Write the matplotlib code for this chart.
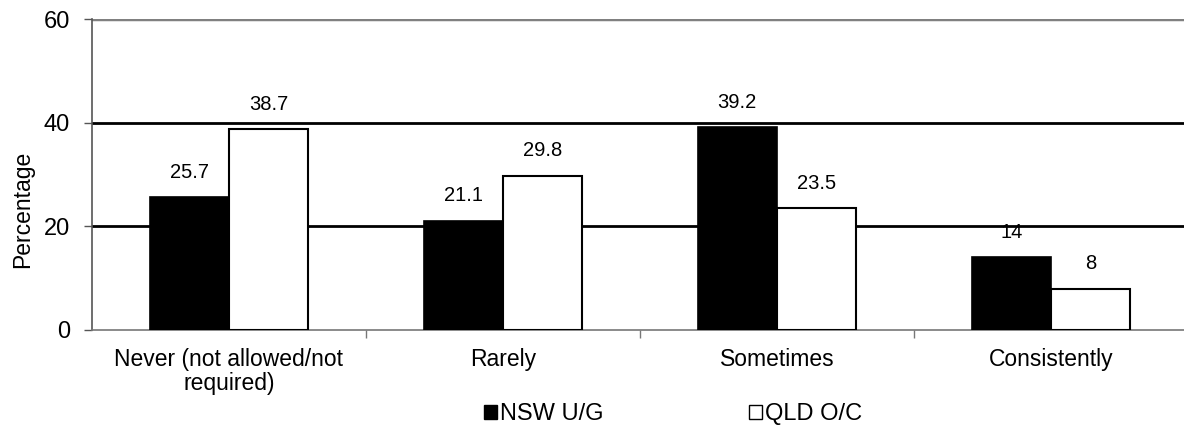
import numpy as np
import matplotlib
matplotlib.use("Agg")
import matplotlib.pyplot as plt
from matplotlib.patches import Patch

plt.rcParams['font.family'] = ['Liberation Sans', 'DejaVu Sans']

categories = ["Never (not allowed/not\nrequired)", "Rarely", "Sometimes", "Consistently"]
nsw = [25.7, 21.1, 39.2, 14]
qld = [38.7, 29.8, 23.5, 8]
nsw_labels = ["25.7", "21.1", "39.2", "14"]
qld_labels = ["38.7", "29.8", "23.5", "8"]

fig = plt.figure(figsize=(11.84, 4.28), dpi=100)
ax = fig.add_axes([92/1184, 1-330/428, 1096/1184, 311/428])

x = np.arange(len(categories))
w = 0.29
b1 = ax.bar(x - w/2, nsw, w, color='black', edgecolor='black', linewidth=1.2, zorder=3)
b2 = ax.bar(x + w/2, qld, w, color='white', edgecolor='black', linewidth=1.5, zorder=3)

for rect, lab in zip(b1, nsw_labels):
    ax.annotate(lab, (rect.get_x() + rect.get_width()/2, rect.get_height()),
                xytext=(0, 11), textcoords='offset points', ha='center', va='bottom', fontsize=14.5)
for rect, lab in zip(b2, qld_labels):
    ax.annotate(lab, (rect.get_x() + rect.get_width()/2, rect.get_height()),
                xytext=(0, 11), textcoords='offset points', ha='center', va='bottom', fontsize=14.5)

ax.set_xlim(-0.5, 3.5)
ax.set_ylim(0, 60)
ax.set_yticks([0, 20, 40, 60])
ax.tick_params(axis='y', labelsize=17, length=6, width=1, color='#555555', pad=10)
ax.set_xticks(x)
ax.set_xticklabels(categories, fontsize=16.5, linespacing=1.05)
ax.tick_params(axis='x', length=0, pad=13)
ax.set_xticks([0.5, 1.5, 2.5], minor=True)
ax.tick_params(axis='x', which='minor', length=6, width=1, color='#777777')

ax.axhline(20, color='black', linewidth=2, zorder=2)
ax.axhline(40, color='black', linewidth=2, zorder=2)
ax.axhline(60, color='#808080', linewidth=2.5, zorder=2)

for s in ['top', 'right']:
    ax.spines[s].set_visible(False)
ax.spines['left'].set_color('#555555')
ax.spines['bottom'].set_color('#777777')
ax.spines['left'].set_linewidth(1.2)
ax.spines['bottom'].set_linewidth(1.2)

ax.set_ylabel("Percentage", fontsize=16.5)
ax.yaxis.set_label_coords(-0.053, 0.389)

handles = [Patch(facecolor='black', edgecolor='black'),
           Patch(facecolor='white', edgecolor='black')]
fig.legend(handles, ["NSW U/G", "QLD O/C"], loc='center', bbox_to_anchor=(673/1184, 1-414/428),
           ncol=2, frameon=False, fontsize=17, handlelength=0.55, handleheight=0.55,
           handletextpad=0.15, columnspacing=6.15, borderpad=0)

fig.savefig("out.png", dpi=100)
